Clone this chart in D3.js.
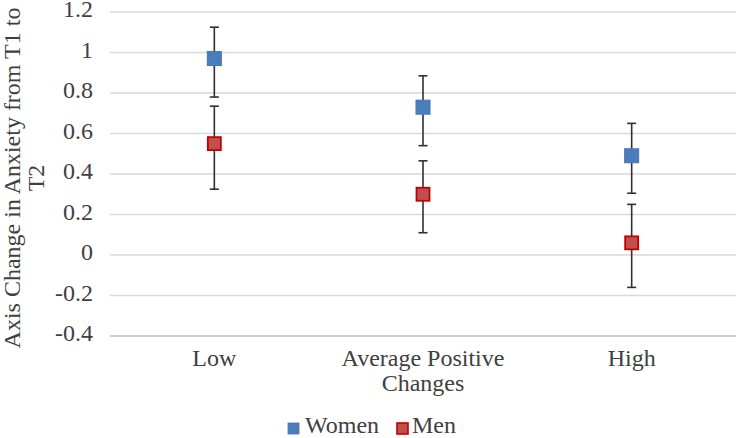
<!DOCTYPE html>
<html><head><meta charset="utf-8">
<script src="https://cdn.jsdelivr.net/npm/d3@7"></script>
<style>
body{margin:0;background:#fff}
#wrap{position:relative;width:742px;height:438px;overflow:hidden}
svg{display:block;position:absolute;left:0;top:0}
</style>
</head><body><div id="wrap"><svg id="c" width="742" height="438"></svg></div>
<script>
const categories = [["Low"], ["Average Positive", "Changes"], ["High"]];
const seriesNames = ["Women", "Men"];
const women = [0.97, 0.73, 0.49];
const womenLow = [0.78, 0.54, 0.305];
const womenHigh = [1.125, 0.885, 0.65];
const men = [0.55, 0.30, 0.06];
const menLow = [0.325, 0.11, -0.16];
const menHigh = [0.735, 0.465, 0.25];
const yTicks = [-0.4, -0.2, 0, 0.2, 0.4, 0.6, 0.8, 1, 1.2];
const yTickLabels = ["-0.4", "-0.2", "0", "0.2", "0.4", "0.6", "0.8", "1", "1.2"];
const yTitle = ["Axis Change in Anxiety from T1 to", "T2"];

const BASE = "position:absolute;font-family:'Liberation Serif' !important;font-size:24px;line-height:24px;color:#404040;white-space:nowrap;";
const wrap = d3.select("#wrap");
const svg = d3.select("#c");
const x = d3.scaleBand().domain(d3.range(categories.length)).range([110, 736]);
const y = d3.scaleLinear().domain([-0.4, 1.2]).range([336, 12]);
const cx = i => x(i) + x.bandwidth()/2;
const div = (extra, html) => wrap.append("div").attr("style", BASE + extra).html(html);

svg.append("g").selectAll("line").data(yTicks).join("line")
  .attr("x1", 110).attr("x2", 736)
  .attr("y1", d => y(d)).attr("y2", d => y(d))
  .attr("stroke", d => d === -0.4 ? "#bfbfbf" : "#d9d9d9").attr("stroke-width", 1.3);

yTicks.forEach((d, i) => div(`right:${742 - 93}px;top:${y(d) - 15}px;`, yTickLabels[i]));

div(`left:${24 - 200}px;top:${178 - 24}px;width:400px;height:48px;text-align:center;transform:rotate(-90deg);`, yTitle.join("<br>"));

categories.forEach((lines, i) =>
  div(`left:${cx(i) - 150}px;width:300px;text-align:center;top:346px;line-height:25px;`, lines.join("<br>")));

const series = [
  {name: "Women", v: women, lo: womenLow, hi: womenHigh, fill: "#4a7ebb", stroke: "#4572b5", size: 14, sw: 1},
  {name: "Men", v: men, lo: menLow, hi: menHigh, fill: "#c0504d", stroke: "#c00000", size: 13, sw: 1.8}
];
series.forEach(s => {
  const g = svg.append("g");
  s.v.forEach((v, i) => {
    g.append("line").attr("x1", cx(i)).attr("x2", cx(i)).attr("y1", y(s.lo[i])).attr("y2", y(s.hi[i]))
      .attr("stroke", "#303030").attr("stroke-width", 1.6);
    [s.lo[i], s.hi[i]].forEach(e => g.append("line").attr("x1", cx(i)-4.5).attr("x2", cx(i)+4.5)
      .attr("y1", y(e)).attr("y2", y(e)).attr("stroke", "#303030").attr("stroke-width", 1.6));
  });
  s.v.forEach((v, i) => {
    g.append("rect").attr("x", cx(i)-s.size/2).attr("y", y(v)-s.size/2).attr("width", s.size).attr("height", s.size)
      .attr("fill", s.fill).attr("stroke", s.stroke).attr("stroke-width", s.sw);
  });
});

const leg = [{name: seriesNames[0], x: 288, tx: 305, fill: "#4a7ebb", stroke: "#4572b5", sw: 0.8},
             {name: seriesNames[1], x: 397, tx: 412, fill: "#c0504d", stroke: "#c00000", sw: 1.6}];
leg.forEach(l => {
  svg.append("rect").attr("x", l.x).attr("y", 423).attr("width", 11).attr("height", 11)
    .attr("fill", l.fill).attr("stroke", l.stroke).attr("stroke-width", l.sw);
  div(`left:${l.tx}px;top:413px;`, l.name);
});
</script></body></html>
